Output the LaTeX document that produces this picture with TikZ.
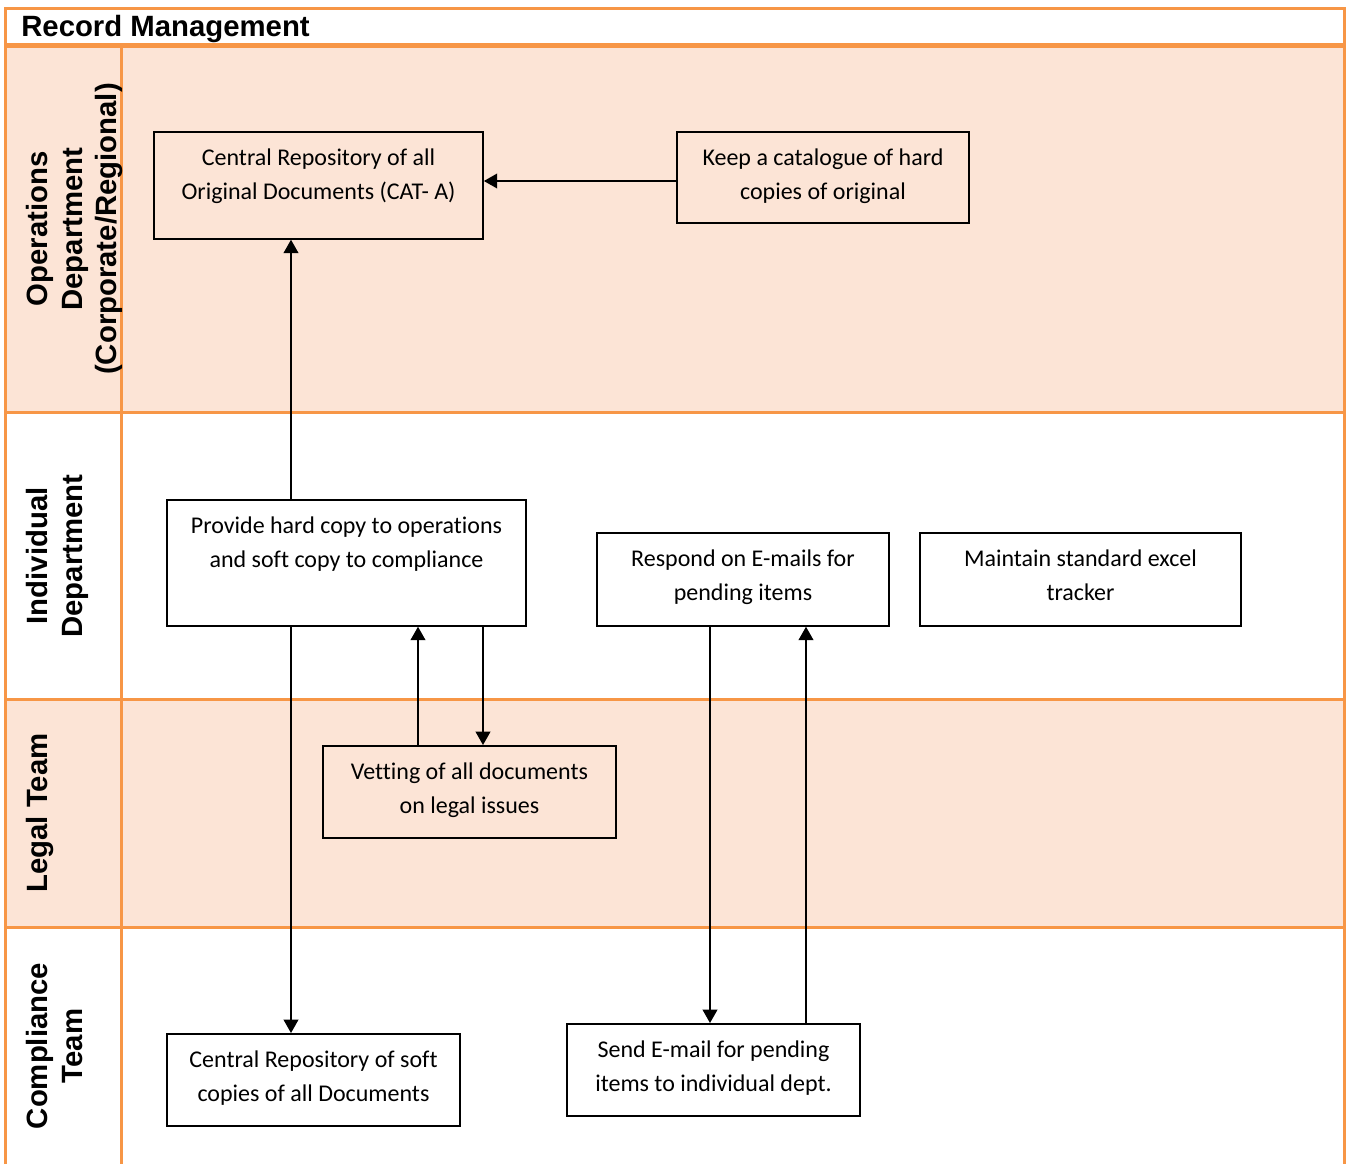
\documentclass[tikz,border=0pt]{standalone}
\usepackage{fontspec}
\setmainfont{Carlito}[Ligatures=CommonOff]
\newfontfamily\lanefont{Liberation Sans}
\usetikzlibrary{arrows.meta}
\definecolor{laneorange}{HTML}{F79646}
\definecolor{lanefill}{HTML}{FCE4D6}
\begin{document}
\begin{tikzpicture}[x=0.75pt, y=-0.75pt]

	% style of the boxes and the lanes
	\tikzstyle{process}=[draw, line width=1.3pt, inner sep=0pt, align=center,
		font=\fontsize{18}{25.5}\selectfont, text height=51pt, anchor=north]
	\tikzstyle{lanelabel}=[rotate=90, anchor=north, inner sep=0pt, align=center,
		font=\lanefont\bfseries\fontsize{22}{26}\selectfont]
	\tikzstyle{lanerule}=[draw=laneorange, line width=2.25pt]
	\tikzstyle{arr}=[line width=1.3pt, -{Triangle[length=10pt, width=11pt]}]

	\useasboundingbox (0,0) rectangle (1346,1164);

	% lanes
	\fill[lanefill] (5.5,45) rectangle (1344.5,412);
	\fill[lanefill] (5.5,699) rectangle (1344.5,927);
	\draw[lanerule] (5.5,1164) -- (5.5,8) -- (1344.5,8) -- (1344.5,1164);
	\draw[lanerule, line width=3.75pt] (5.5,45) -- (1344.5,45);
	\draw[lanerule] (5.5,412) -- (1344.5,412);
	\draw[lanerule] (5.5,699) -- (1344.5,699);
	\draw[lanerule] (5.5,927) -- (1344.5,927);
	\draw[lanerule] (121.5,45) -- (121.5,1164);

	\node[anchor=base west, inner sep=0pt, font=\lanefont\bfseries\fontsize{22}{26}\selectfont]
		(title) at (21,36) {Record Management};

	\node[lanelabel] (opslbl) at (26,229) {Operations\\Department\\(Corporate/Regional)};
	\node[lanelabel] (indlbl) at (26,556) {Individual\\Department};
	\node[lanelabel] (legallbl) at (26,813) {Legal Team};
	\node[lanelabel] (complbl) at (26,1046) {Compliance\\Team};

	% process boxes
	\node[process, minimum width=246.75pt, text depth=29.25pt] (cro) at (318.5,131)
		{Central Repository of all\\Original Documents (CAT- A)};
	\node[process, minimum width=219pt, text depth=17.25pt] (keep) at (823,131)
		{Keep a catalogue of hard\\copies of original};
	\node[process, minimum width=269.25pt, text depth=43.5pt] (provide) at (346.5,499)
		{Provide hard copy to operations\\and soft copy to compliance};
	\node[process, minimum width=219pt, text depth=18.75pt] (respond) at (743,532)
		{Respond on E-mails for\\pending items};
	\node[process, minimum width=240.75pt, text depth=18.75pt] (maintain) at (1080.5,532)
		{Maintain standard excel\\tracker};
	\node[process, minimum width=219.75pt, text depth=18pt] (vetting) at (469.5,745)
		{Vetting of all documents\\on legal issues};
	\node[process, minimum width=219.75pt, text depth=18pt] (crsoft) at (313.5,1033)
		{Central Repository of soft\\copies of all Documents};
	\node[process, minimum width=219.75pt, text depth=18pt] (send) at (713.5,1023)
		{Send E-mail for pending\\items to individual dept.};

	% connectors
	\draw[arr] (keep.west |- 0,181) -- (cro.east |- 0,181);
	\draw[arr] (provide.north -| 291,0) -- (cro.south -| 291,0);
	\draw[arr] (provide.south -| 291,0) -- (crsoft.north -| 291,0);
	\draw[arr] (vetting.north -| 418,0) -- (provide.south -| 418,0);
	\draw[arr] (provide.south -| 483,0) -- (vetting.north -| 483,0);
	\draw[arr] (respond.south -| 710,0) -- (send.north -| 710,0);
	\draw[arr] (send.north -| 806,0) -- (respond.south -| 806,0);

\end{tikzpicture}
\end{document}
